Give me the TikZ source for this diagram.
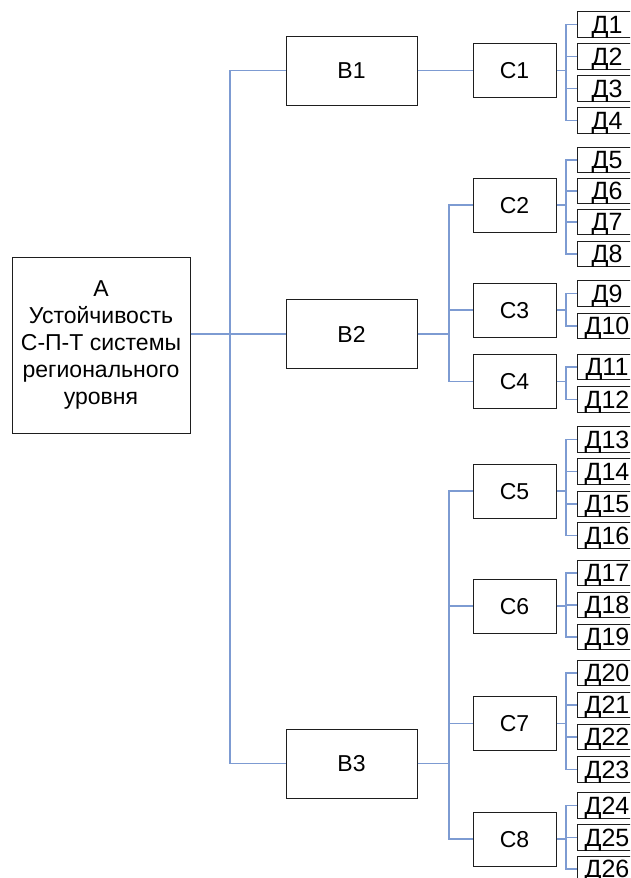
\documentclass[tikz,border=0pt]{standalone}
\usepackage{fontspec}
\setmainfont{Liberation Sans}
\definecolor{lnk}{RGB}{125,155,210}
\definecolor{bord}{RGB}{30,30,30}
\tikzset{
  box/.style={draw=bord, line width=1pt, fill=white, inner sep=0pt, align=center},
  abox/.style={box, minimum width=178pt, minimum height=176pt, font=\fontsize{23}{27}\selectfont},
  bbox/.style={box, minimum width=131pt, minimum height=69pt, font=\fontsize{23}{26}\selectfont, text height=16.5pt, text depth=0pt},
  cbox/.style={box, minimum width=83pt, minimum height=54pt, font=\fontsize{23}{26}\selectfont, text height=16.5pt, text depth=0pt},
  dbox/.style={box, minimum width=60pt, minimum height=25.5pt, font=\fontsize{25}{26}\selectfont, text height=17.9pt, text depth=0pt},
  link/.style={draw=lnk, line width=1.2pt}
}
\begin{document}
\begin{tikzpicture}[x=1pt,y=-1pt]
\clip (0,0) rectangle (630,878);
\fill[white] (0,0) rectangle (630,878);
\coordinate (j1) at (230,0);
\coordinate (j2) at (449,0);
\coordinate (j3) at (566,0);

\node[abox] (A) at (101,345) {А\\Устойчивость\\С-П-Т системы\\регионального\\уровня};

\node[bbox] (B1) at (351.5,70.5) {В1};
\node[bbox] (B2) at (351.5,334) {В2};
\node[bbox] (B3) at (351.5,763.5) {В3};

\foreach \n/\y in {1/70.5,2/205,3/310,4/381.5,5/491,6/606,7/723.5,8/839}
  \node[cbox] (C\n) at (514.5,\y) {С\n};

\foreach \n/\y in {1/24.5,2/56.5,3/88.5,4/120.5,
                   5/160,6/191,7/222,8/254,
                   9/293.5,10/326,
                   11/367,12/399.5,
                   13/439.5,14/471.5,15/504,16/535.5,
                   17/573,18/605,19/637,
                   20/673,21/705,22/737,23/769.5,
                   24/805.5,25/837.5,26/869}
  \node[dbox] (D\n) at (607,\y) {Д\n};

% level A -> B
\draw[link] (A.east |- B2.west) -- (B2.west);
\draw[link] (B1.west) -- (B1.west -| j1) -- (B3.west -| j1) -- (B3.west);

% level B -> C
\draw[link] (B1.east) -- (C1.west);
\draw[link] (B2.east) -- (B2.east -| j2);
\draw[link] (C2.west) -- (C2.west -| j2) -- (C4.west -| j2) -- (C4.west);
\draw[link] (C3.west) -- (C3.west -| j2);
\draw[link] (B3.east) -- (B3.east -| j2);
\draw[link] (C5.west) -- (C5.west -| j2) -- (C8.west -| j2) -- (C8.west);
\draw[link] (C6.west) -- (C6.west -| j2);
\draw[link] (C7.west) -- (C7.west -| j2);

% level C -> D
\foreach \c/\a/\b in {1/1/4,2/5/8,3/9/10,4/11/12,5/13/16,6/17/19,7/20/23,8/24/26}{
  \draw[link] (C\c.east) -- (C\c.east -| j3);
  \draw[link] (D\a.west) -- (D\a.west -| j3) -- (D\b.west -| j3) -- (D\b.west);
  \foreach \k in {\a,...,\b}
    \draw[link] (D\k.west) -- (D\k.west -| j3);
}
\end{tikzpicture}
\end{document}
